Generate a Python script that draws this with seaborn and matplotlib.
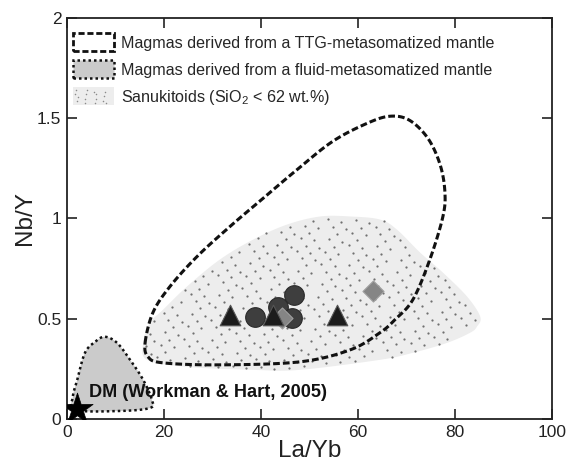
import numpy as np
import pandas as pd
import matplotlib
matplotlib.use("Agg")
import matplotlib.pyplot as plt
from matplotlib.patches import Polygon, Patch, Rectangle
from matplotlib.lines import Line2D
from matplotlib.path import Path
from matplotlib.legend_handler import HandlerBase
import seaborn as sns

# --- sample data (La/Yb vs Nb/Y) ---
tri_x = [33.6, 42.5, 55.7]
tri_y = [0.52, 0.52, 0.52]
circ_x = [38.8, 43.5, 46.8, 46.4]
circ_y = [0.51, 0.56, 0.62, 0.505]
diam_x = [63.1, 44.3]
diam_y = [0.64, 0.505]
dm_x = [2.0]
dm_y = [0.05]

# --- field outlines (control points, closed) ---
ttg_x = [16.1, 17.7, 21.2, 26.8, 33.6, 40.4, 47.5, 54.8, 61.9, 66.6, 70.6,
         74.4, 76.9, 77.9, 77.5, 74.8, 71.3, 67.6, 64.5, 58.4, 48.0, 31.5, 19.8, 16.7]
ttg_y = [0.38, 0.53, 0.66, 0.81, 0.96, 1.10, 1.245, 1.385, 1.475, 1.51, 1.49,
         1.40, 1.27, 1.135, 1.01, 0.795, 0.595, 0.495, 0.43, 0.345, 0.285, 0.27, 0.28, 0.31]

san_x = [15.7, 17.1, 19.8, 24.7, 31.5, 38.4, 45.4, 52.2, 58.4, 64.5, 68.0, 72.8,
         77.5, 82.5, 85.2, 84.5, 83.1, 78.4, 71.3, 64.5, 48.0, 38.4, 24.7, 16.5]
san_y = [0.38, 0.48, 0.545, 0.66, 0.795, 0.895, 0.97, 1.01, 1.01, 0.995, 0.945, 0.83,
         0.73, 0.61, 0.51, 0.46, 0.43, 0.38, 0.33, 0.295, 0.245, 0.245, 0.26, 0.295]

fluid_x = [1.65, 1.2, 2.1, 3.7, 5.8, 7.8, 10.3, 13.0, 15.7, 17.5, 17.1, 10.9]
fluid_y = [0.045, 0.11, 0.195, 0.33, 0.385, 0.41, 0.38, 0.295, 0.195, 0.095, 0.055, 0.04]

legend_labels = [
    "Magmas derived from a TTG-metasomatized mantle",
    "Magmas derived from a fluid-metasomatized mantle",
    "Sanukitoids (SiO$_2$ < 62 wt.%)",
]
x_ticks = [0, 20, 40, 60, 80, 100]
y_ticks = [0, 0.5, 1, 1.5, 2]
y_tick_labels = ["0", "0.5", "1", "1.5", "2"]


def smooth_closed(xs, ys, n=20):
    """Closed Catmull-Rom curve through the given outline points."""
    p = np.column_stack([xs, ys]).astype(float)
    m = len(p)
    out = []
    t = np.linspace(0, 1, n, endpoint=False)[:, None]
    for i in range(m):
        p0, p1, p2, p3 = p[(i - 1) % m], p[i], p[(i + 1) % m], p[(i + 2) % m]
        seg = 0.5 * ((2 * p1) + (-p0 + p2) * t + (2 * p0 - 5 * p1 + 4 * p2 - p3) * t ** 2
                     + (-p0 + 3 * p1 - 3 * p2 + p3) * t ** 3)
        out.append(seg)
    return np.vstack(out)


def stipple(xmin, xmax, ymin, ymax, n):
    """Evenly spread dot texture from the R2 low-discrepancy sequence."""
    g = 1.32471795724474602596
    a1, a2 = 1.0 / g, 1.0 / g ** 2
    k = np.arange(1, n + 1)
    u = (0.5 + a1 * k) % 1.0
    v = (0.5 + a2 * k) % 1.0
    return xmin + u * (xmax - xmin), ymin + v * (ymax - ymin)


san_fill = "#ededed"
dot_col = "#707070"
fluid_fill = "#cbcbcb"


class StippleHandler(HandlerBase):
    """Legend swatch: light box sprinkled with small dots."""

    def create_artists(self, legend, orig_handle, xdescent, ydescent, width, height,
                       fontsize, trans):
        rect = Rectangle((-xdescent, -ydescent), width, height, facecolor=san_fill,
                         edgecolor="none", transform=trans)
        u, v = stipple(0.04, 0.96, 0.06, 0.94, 16)
        dots = Line2D(-xdescent + u * width, -ydescent + v * height, ls="none",
                      marker="o", ms=1.1, mew=0, color="#8a8a8a", transform=trans)
        return [rect, dots]


sns.set_style("ticks")
plt.rcParams["font.family"] = ["Liberation Sans", "DejaVu Sans"]
plt.rcParams["mathtext.fontset"] = "custom"
plt.rcParams["mathtext.rm"] = "Liberation Sans"
plt.rcParams["mathtext.default"] = "regular"

fig = plt.figure(figsize=(5.69, 4.66), dpi=100)
ax = fig.add_axes([0.1178, 0.1009, 0.8524, 0.8605])

# Sanukitoid field: light fill + stipple dots clipped to the outline
san = smooth_closed(san_x, san_y)
ax.add_patch(Polygon(san, closed=True, facecolor=san_fill, edgecolor="none", lw=0, zorder=1))
sx, sy = stipple(14.5, 86.5, 0.23, 1.03, 560)
inside = Path(san).contains_points(np.column_stack([sx, sy]))
ax.scatter(sx[inside], sy[inside], s=2.6, color=dot_col, linewidths=0, zorder=1.1)

# Fluid-metasomatized mantle field
fl = smooth_closed(fluid_x, fluid_y)
ax.add_patch(Polygon(fl, closed=True, facecolor=fluid_fill, edgecolor="#111111", lw=1.8,
                     linestyle=(0, (1, 1.2)), zorder=2))

# TTG-metasomatized mantle field
tt = smooth_closed(ttg_x, ttg_y)
ax.add_patch(Polygon(tt, closed=True, facecolor="none", edgecolor="#111111", lw=2.2,
                     linestyle=(0, (2.2, 1.0)), zorder=2))

pts = pd.DataFrame({"x": circ_x, "y": circ_y})
sns.scatterplot(data=pts, x="x", y="y", ax=ax, marker="o", s=200, color="#3e3e3e",
                edgecolor="#2a2a2a", linewidth=0.8, zorder=4)
pts = pd.DataFrame({"x": diam_x, "y": diam_y})
sns.scatterplot(data=pts, x="x", y="y", ax=ax, marker="D", s=115, color="#858585",
                edgecolor="#a0a0a0", linewidth=0.8, zorder=5)
pts = pd.DataFrame({"x": tri_x, "y": tri_y})
sns.scatterplot(data=pts, x="x", y="y", ax=ax, marker="^", s=220, color="#1c1c1c",
                edgecolor="#555555", linewidth=0.8, zorder=6)
pts = pd.DataFrame({"x": dm_x, "y": dm_y})
sns.scatterplot(data=pts, x="x", y="y", ax=ax, marker="*", s=560, color="black",
                edgecolor="black", linewidth=0.5, zorder=7)

ax.text(4.6, 0.13, "DM (Workman & Hart, 2005)", fontsize=13.1, fontweight="bold",
        va="center", ha="left", color="#111111", zorder=8)

ax.set_xlim(0, 100)
ax.set_ylim(0, 2)
ax.set_xticks(x_ticks)
ax.set_xticklabels([str(v) for v in x_ticks])
ax.set_yticks(y_ticks)
ax.set_yticklabels(y_tick_labels)
ax.set_xlabel("La/Yb", fontsize=17.5, labelpad=0, color="#222222")
ax.set_ylabel("Nb/Y", fontsize=17.5, labelpad=1, color="#222222")
ax.tick_params(direction="in", length=7, width=1.2, top=True, right=True,
               labelsize=12.5, colors="#222222", pad=4)
for s in ax.spines.values():
    s.set_visible(True)
    s.set_linewidth(1.3)
    s.set_color("#222222")

san_handle = Patch(facecolor=san_fill, edgecolor="none")
handles = [
    Patch(facecolor="white", edgecolor="#111111", lw=2.0, linestyle=(0, (2.2, 1.0))),
    Patch(facecolor=fluid_fill, edgecolor="#111111", lw=1.8, linestyle=(0, (1, 1.2))),
    san_handle,
]
ax.legend(handles, legend_labels, loc="upper left", bbox_to_anchor=(-0.01, 0.99),
          frameon=False, fontsize=11.6, handlelength=2.5, handleheight=1.35,
          handletextpad=0.45, labelspacing=0.55, borderaxespad=0.3,
          handler_map={san_handle: StippleHandler()})

fig.savefig("out.png", dpi=100)
